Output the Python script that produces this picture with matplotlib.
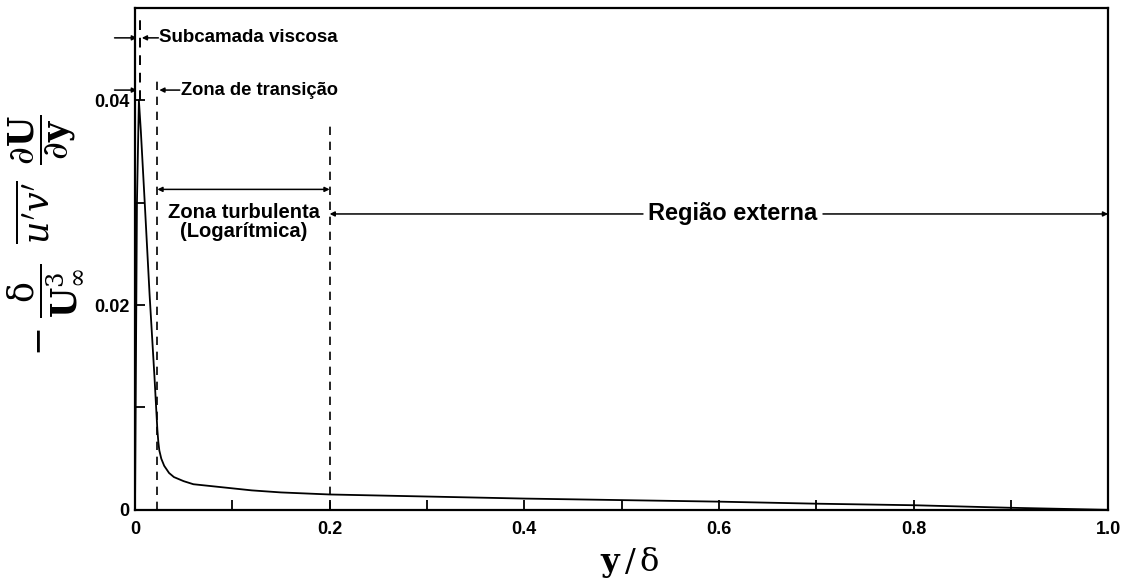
import matplotlib
matplotlib.use("Agg")
import matplotlib.pyplot as plt
from matplotlib.ticker import MultipleLocator

plt.rcParams['font.family'] = ['Liberation Sans', 'DejaVu Sans']
plt.rcParams['mathtext.fontset'] = 'dejavuserif'

# curva
y_delta = [0.0, 0.001, 0.002, 0.004, 0.006, 0.01, 0.015, 0.02, 0.022, 0.023, 0.024, 0.025,
           0.027, 0.03, 0.035, 0.04, 0.05, 0.06, 0.07, 0.08, 0.1, 0.12, 0.15, 0.2, 0.25,
           0.3, 0.4, 0.5, 0.6, 0.7, 0.8, 0.9, 0.95, 1.0]
producao = [0.0, 0.015, 0.030, 0.040, 0.037, 0.030, 0.021, 0.013, 0.0095, 0.0078, 0.0066, 0.0058,
            0.0050, 0.0043, 0.0036, 0.0032, 0.0028, 0.0025, 0.0024, 0.0023, 0.0021, 0.0019,
            0.0017, 0.0015, 0.0014, 0.0013, 0.0011, 0.00095, 0.0008, 0.0006, 0.00045, 0.0002,
            0.0001, 0.0]

limites = [0.005, 0.023, 0.2]
x_ticks = [0, 0.2, 0.4, 0.6, 0.8, 1.0]
x_labels = ["0", "0.2", "0.4", "0.6", "0.8", "1.0"]
y_ticks = [0, 0.02, 0.04]
y_labels = ["0", "0.02", "0.04"]

fig = plt.figure(figsize=(11.25, 5.84), dpi=100)
ax = fig.add_axes([0.12, 0.127, 0.865, 0.859])

ax.plot(y_delta, producao, color="black", lw=1.3)

ax.set_xlim(0, 1.0)
ax.set_ylim(0, 0.049)
ax.set_xticks(x_ticks)
ax.set_xticklabels(x_labels, fontweight="bold", fontsize=13)
ax.set_yticks(y_ticks)
ax.set_yticklabels(y_labels, fontweight="bold", fontsize=13)
ax.xaxis.set_minor_locator(MultipleLocator(0.1))
ax.yaxis.set_minor_locator(MultipleLocator(0.01))
ax.tick_params(which="both", direction="in", width=1.3, top=False, right=False, length=7)
ax.tick_params(axis="x", pad=8)
ax.tick_params(axis="y", pad=4)
for s in ax.spines.values():
    s.set_linewidth(1.6)

# linhas tracejadas verticais
ax.plot([limites[0]] * 2, [0.040, 0.0478], ls=(0, (5, 4)), color="black", lw=1.4)
ax.plot([limites[1]] * 2, [0, 0.0425], ls=(0, (5, 4)), color="black", lw=1.2)
ax.plot([limites[2]] * 2, [0, 0.038], ls=(0, (5, 4)), color="black", lw=1.2)

arr = dict(arrowstyle="-|>", color="black", lw=1.1, mutation_scale=7, shrinkA=0, shrinkB=0)
dbl = dict(arrowstyle="<|-|>", color="black", lw=1.1, mutation_scale=7, shrinkA=0, shrinkB=0)

# Subcamada viscosa
ax.annotate("", xy=(0.002, 0.0461), xytext=(-0.021, 0.0461), arrowprops=arr, annotation_clip=False)
ax.annotate("", xy=(0.007, 0.0461), xytext=(0.024, 0.0461), arrowprops=arr)
ax.text(0.0245, 0.0461, "Subcamada viscosa", fontsize=13.5, fontweight="bold", va="center")

# Zona de transição
ax.annotate("", xy=(0.002, 0.0410), xytext=(-0.021, 0.0410), arrowprops=arr, annotation_clip=False)
ax.annotate("", xy=(0.025, 0.0410), xytext=(0.046, 0.0410), arrowprops=arr)
ax.text(0.047, 0.0410, "Zona de transição", fontsize=13.2, fontweight="bold", va="center")

# Zona turbulenta
ax.annotate("", xy=(0.023, 0.0313), xytext=(0.2, 0.0313), arrowprops=dbl)
ax.text(0.112, 0.0300, "Zona turbulenta\n(Logarítmica)", fontsize=14.5, fontweight="bold",
        ha="center", va="top", linespacing=1.05)

# Região externa
ax.annotate("", xy=(0.2, 0.0289), xytext=(0.522, 0.0289), arrowprops=arr)
ax.annotate("", xy=(1.0, 0.0289), xytext=(0.707, 0.0289), arrowprops=arr)
ax.text(0.6145, 0.0289, "Região externa", fontsize=17, fontweight="bold", ha="center", va="center")

fig.text(630 / 1125, 1 - 563 / 584, r"$\mathbf{y}\,/\,\mathrm{\delta}$", fontsize=23,
         ha="center", va="center")
fig.text(0.04, 1 - 235 / 584,
         r"$-\;\dfrac{\mathrm{\delta}}{\mathbf{U}_\infty^3}\;\;\overline{u'v'}\;\;\dfrac{\partial \mathbf{U}}{\partial \mathbf{y}}$",
         fontsize=25, rotation=90, ha="center", va="center")

fig.savefig("out.png", dpi=100)
